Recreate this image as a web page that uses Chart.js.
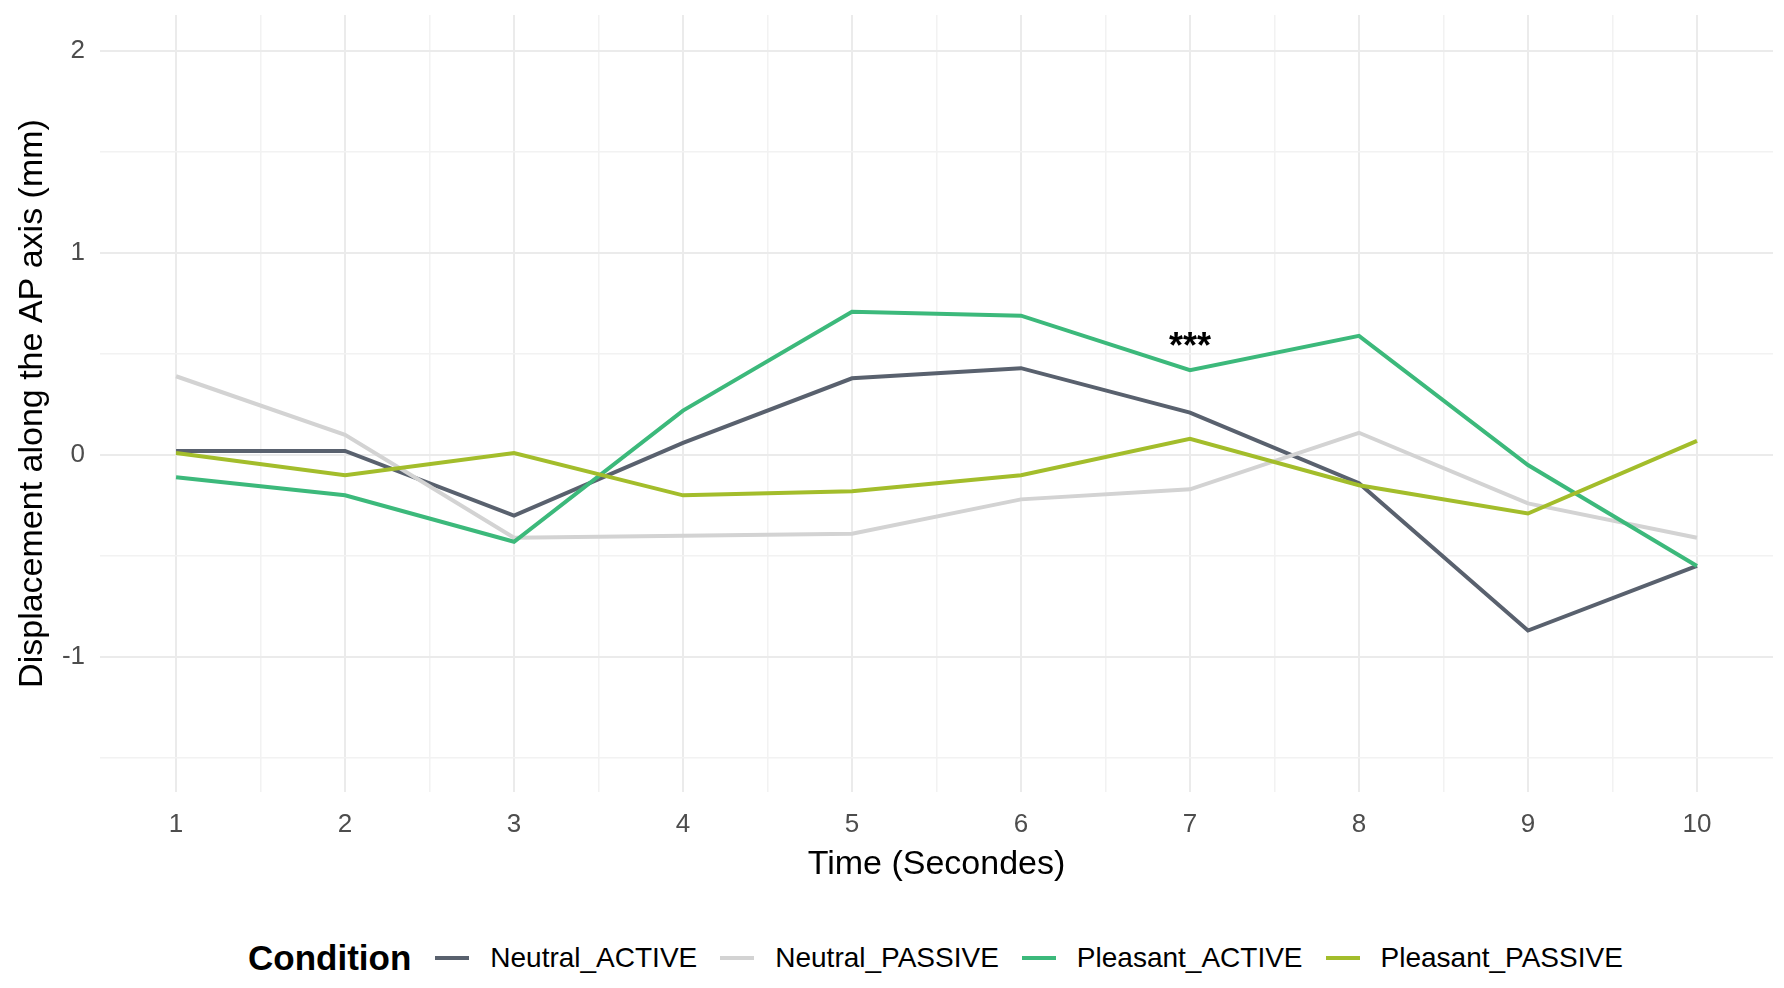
<!DOCTYPE html>
<html>
<head>
    <title>Displacement along the AP axis</title>
    <script src="https://cdn.jsdelivr.net/npm/chart.js"></script>
    <style>
        body { margin: 0; background: #fff; font-family: "Liberation Sans", Arial, sans-serif; }
        #wrap { position: relative; width: 1784px; height: 892px; }
        #legend {
            position: absolute; left: 248px; top: 936px;
            display: flex; align-items: center; height: 44px;
        }
        #legend .title { font-weight: bold; font-size: 35px; color: #000; margin-right: 24px; }
        #legend .key { display: inline-block; width: 34px; height: 4px; margin-right: 21px; }
        #legend .lab { font-size: 28px; color: #000; margin-right: 23px; }
    </style>
</head>
<body>
    <div id="wrap">
        <canvas id="lineChart"></canvas>
    </div>
    <div id="legend"></div>

    <script>
        // 数据
        const times = [1, 2, 3, 4, 5, 6, 7, 8, 9, 10];
        const neutralActive   = [0.02, 0.02, -0.30, 0.06, 0.38, 0.43, 0.21, -0.14, -0.87, -0.55];
        const neutralPassive  = [0.39, 0.10, -0.41, -0.40, -0.39, -0.22, -0.17, 0.11, -0.24, -0.41];
        const pleasantActive  = [-0.11, -0.20, -0.43, 0.22, 0.71, 0.69, 0.42, 0.59, -0.05, -0.55];
        const pleasantPassive = [0.01, -0.10, 0.01, -0.20, -0.18, -0.10, 0.08, -0.15, -0.29, 0.07];

        const seriesNames = ['Neutral_ACTIVE', 'Neutral_PASSIVE', 'Pleasant_ACTIVE', 'Pleasant_PASSIVE'];
        const seriesValues = [neutralActive, neutralPassive, pleasantActive, pleasantPassive];
        const seriesColors = ['#59616e', '#d3d3d3', '#3cb97b', '#a3bd2b'];

        const xTicks = [1, 1.5, 2, 2.5, 3, 3.5, 4, 4.5, 5, 5.5, 6, 6.5, 7, 7.5, 8, 8.5, 9, 9.5, 10];
        const yTicks = [-1.5, -1, -0.5, 0, 0.5, 1, 1.5, 2];

        // 显著性标记
        const annotX = 7;
        const annotY = 0.58;
        const annotLabel = '***';

        const isMajor = v => Number.isInteger(v);

        const annotPlugin = {
            id: 'annot',
            afterDatasetsDraw(chart) {
                const ctx = chart.ctx;
                const size = 36;
                const x = chart.scales.x.getPixelForValue(annotX);
                const y = chart.scales.y.getPixelForValue(annotY);
                ctx.save();
                ctx.font = 'bold ' + size + 'px "Liberation Sans", Arial, sans-serif';
                ctx.fillStyle = '#000';
                ctx.textAlign = 'center';
                ctx.textBaseline = 'alphabetic';
                // 星号字形位于基线上方
                ctx.fillText(annotLabel, x, y + size * 0.55);
                ctx.restore();
            }
        };

        const datasets = seriesNames.map((name, i) => ({
            label: name,
            data: times.map((t, j) => ({ x: t, y: seriesValues[i][j] })),
            borderColor: seriesColors[i],
            backgroundColor: seriesColors[i],
            borderWidth: 4,
            pointRadius: 0,
            tension: 0,
            order: seriesNames.length - i
        }));

        const ctx = document.getElementById('lineChart').getContext('2d');
        new Chart(ctx, {
            type: 'line',
            data: { datasets },
            options: {
                responsive: true,
                maintainAspectRatio: false,
                animation: false,
                layout: { padding: { top: 15, right: 11, left: 0, bottom: 0 } },
                plugins: {
                    legend: { display: false },
                    tooltip: { enabled: false }
                },
                scales: {
                    x: {
                        type: 'linear',
                        min: 0.55,
                        max: 10.45,
                        afterBuildTicks: scale => { scale.ticks = xTicks.map(v => ({ value: v })); },
                        afterFit: scale => {
                            scale.height = 100;
                            scale.paddingLeft = 0;
                            scale.paddingRight = 0;
                        },
                        border: { display: false },
                        grid: {
                            drawTicks: false,
                            color: c => isMajor(c.tick.value) ? '#ebebeb' : '#f2f2f2',
                            lineWidth: c => isMajor(c.tick.value) ? 2 : 1.5
                        },
                        ticks: {
                            autoSkip: false,
                            maxRotation: 0,
                            padding: 17,
                            color: '#4d4d4d',
                            font: { family: '"Liberation Sans", Arial, sans-serif', size: 26 },
                            callback: v => isMajor(v) ? String(v) : ''
                        },
                        title: {
                            display: true,
                            text: 'Time (Secondes)',
                            color: '#000',
                            padding: { top: 0, bottom: 7 },
                            font: { family: '"Liberation Sans", Arial, sans-serif', size: 34 }
                        }
                    },
                    y: {
                        min: -1.67,
                        max: 2.18,
                        afterBuildTicks: scale => { scale.ticks = yTicks.map(v => ({ value: v })); },
                        afterFit: scale => {
                            scale.width = 100;
                            scale.paddingTop = 0;
                            scale.paddingBottom = 0;
                        },
                        border: { display: false },
                        grid: {
                            drawTicks: false,
                            color: c => isMajor(c.tick.value) ? '#ebebeb' : '#f2f2f2',
                            lineWidth: c => isMajor(c.tick.value) ? 2 : 1.5
                        },
                        ticks: {
                            padding: 15,
                            color: '#4d4d4d',
                            font: { family: '"Liberation Sans", Arial, sans-serif', size: 26 },
                            callback: v => isMajor(v) ? String(v) : ''
                        },
                        title: {
                            display: true,
                            text: 'Displacement along the AP axis (mm)',
                            color: '#000',
                            padding: { top: 12, bottom: 0 },
                            font: { family: '"Liberation Sans", Arial, sans-serif', size: 34 }
                        }
                    }
                }
            },
            plugins: [annotPlugin]
        });

        // 图例
        const legend = document.getElementById('legend');
        let html = '<span class="title">Condition</span>';
        seriesNames.forEach((name, i) => {
            html += '<span class="key" style="background:' + seriesColors[i] + '"></span>' +
                    '<span class="lab">' + name + '</span>';
        });
        legend.innerHTML = html;
    </script>
</body>
</html>
